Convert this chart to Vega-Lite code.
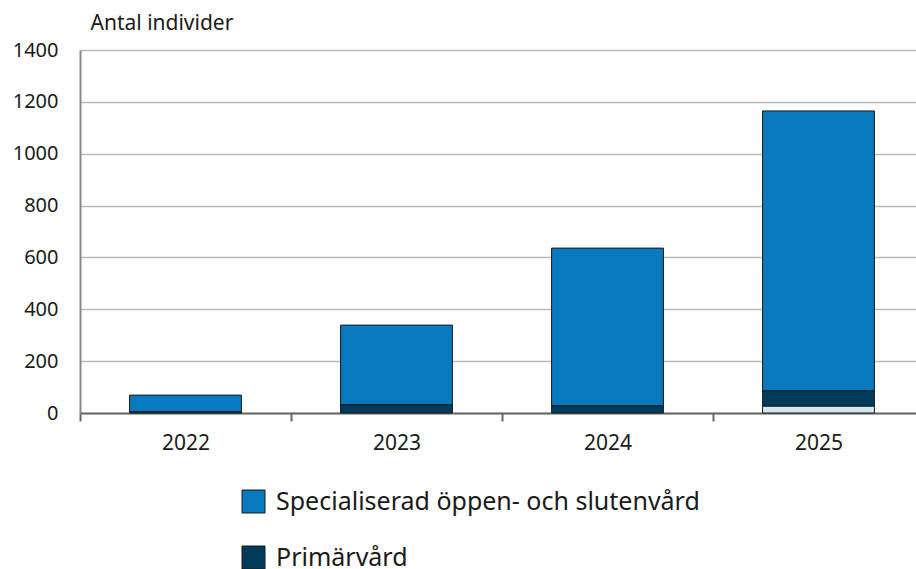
{
  "$schema": "https://vega.github.io/schema/vega-lite/v6.json",
  "autosize": {"type": "none"},
  "padding": {"left": 80, "top": 50, "right": 0, "bottom": 156},
  "width": 844,
  "height": 363,
  "background": "white",
  "config": {
    "font": "Noto Sans",
    "view": {"stroke": null}
  },
  "data": {
    "values": [
      {"year": "2022", "kategori": "Specialiserad öppen- och slutenvård", "antal": 65, "ord": 3},
      {"year": "2022", "kategori": "Primärvård", "antal": 4, "ord": 2},
      {"year": "2023", "kategori": "Specialiserad öppen- och slutenvård", "antal": 307, "ord": 3},
      {"year": "2023", "kategori": "Primärvård", "antal": 32, "ord": 2},
      {"year": "2024", "kategori": "Specialiserad öppen- och slutenvård", "antal": 608, "ord": 3},
      {"year": "2024", "kategori": "Primärvård", "antal": 28, "ord": 2},
      {"year": "2025", "kategori": "Specialiserad öppen- och slutenvård", "antal": 1080, "ord": 3},
      {"year": "2025", "kategori": "Primärvård", "antal": 59, "ord": 2},
      {"year": "2025", "kategori": "Övrigt", "antal": 26, "ord": 1}
    ]
  },
  "mark": {"type": "bar", "stroke": "#1a1a1a", "strokeWidth": 1},
  "encoding": {
    "x": {
      "field": "year",
      "type": "nominal",
      "scale": {"paddingInner": 0.47, "paddingOuter": 0.235},
      "axis": {
        "title": null,
        "labelAngle": 0,
        "labelFontSize": 21,
        "labelColor": "#1a1a1a",
        "bandPosition": 0.5,
        "tickOffset": -105.5,
        "labelOffset": 105.5,
        "tickSize": 8,
        "tickColor": "#666666",
        "tickWidth": 2,
        "domainColor": "#666666",
        "domainWidth": 2,
        "labelPadding": 11,
        "grid": false
      }
    },
    "y": {
      "field": "antal",
      "type": "quantitative",
      "stack": "zero",
      "scale": {"domain": [0, 1400], "nice": false},
      "axis": {
        "values": [0, 200, 400, 600, 800, 1000, 1200, 1400],
        "format": "d",
        "title": "Antal individer",
        "titleAngle": 0,
        "titleAlign": "left",
        "titleBaseline": "middle",
        "titleX": 10,
        "titleY": -27,
        "titleFontSize": 21,
        "titleFontWeight": "normal",
        "titleColor": "#1a1a1a",
        "labelFontSize": 20,
        "labelColor": "#1a1a1a",
        "labelPadding": 22,
        "ticks": false,
        "domainColor": "#888888",
        "domainWidth": 2,
        "grid": true,
        "gridColor": "#bbbbbb",
        "gridWidth": 1.5
      }
    },
    "color": {
      "field": "kategori",
      "type": "nominal",
      "scale": {
        "domain": ["Specialiserad öppen- och slutenvård", "Primärvård", "Övrigt"],
        "range": ["#0878bf", "#023a5c", "#d4e9f1"]
      },
      "legend": {
        "title": null,
        "values": ["Specialiserad öppen- och slutenvård", "Primärvård"],
        "orient": "none",
        "legendX": 161,
        "legendY": 439,
        "direction": "vertical",
        "symbolType": "square",
        "symbolSize": 529,
        "symbolStrokeColor": "#1a1a1a",
        "symbolStrokeWidth": 1,
        "labelFontSize": 25,
        "labelColor": "#1a1a1a",
        "labelOffset": 10,
        "rowPadding": 29,
        "labelLimit": 700
      }
    },
    "order": {"field": "ord", "type": "quantitative"}
  }
}
